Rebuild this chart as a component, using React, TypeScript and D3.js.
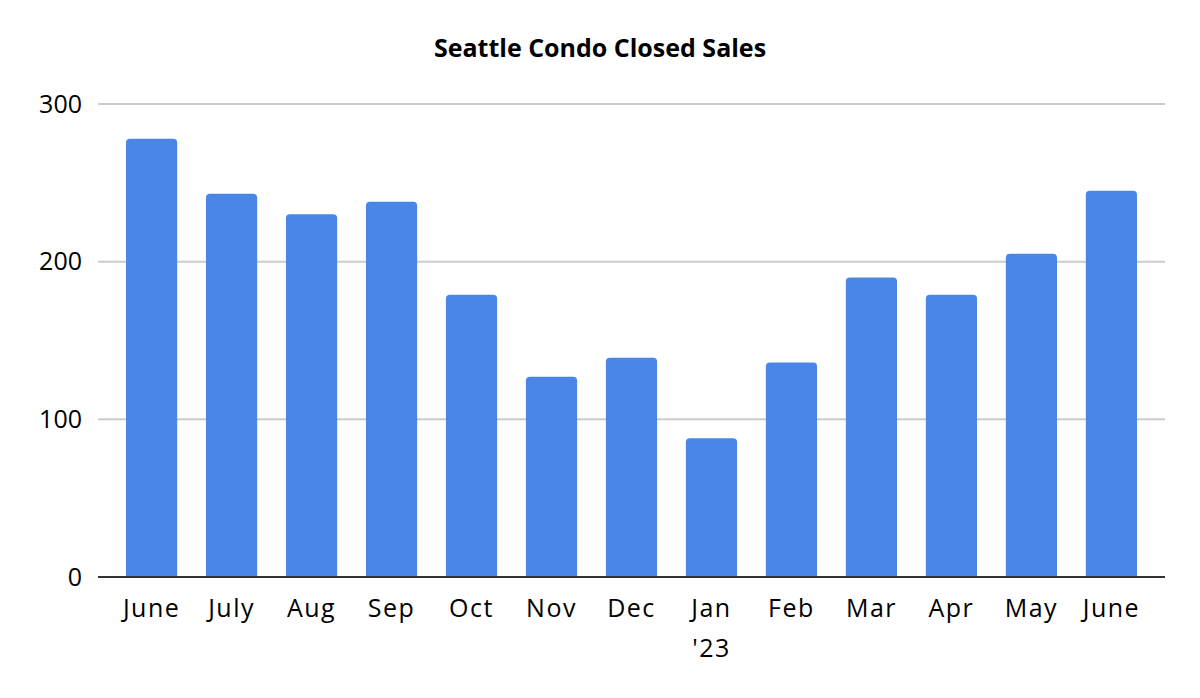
import { useEffect, useRef } from "react";
import * as d3 from "d3";

const months = ["June", "July", "Aug", "Sep", "Oct", "Nov", "Dec", "Jan\n'23", "Feb", "Mar", "Apr", "May", "June "];
const closedSales = [278, 243, 230, 238, 179, 127, 139, 88, 136, 190, 179, 205, 245];
const yTicks = [0, 100, 200, 300];

const W = 1200;
const H = 698;

function App() {
  const svgRef = useRef<SVGSVGElement | null>(null);

  useEffect(() => {
    const svg = d3.select(svgRef.current);
    svg.selectAll("*").remove();

    const left = 98;
    const right = 1165;
    const top = 104;
    const bottom = 577;
    const font = "'Open Sans', 'Liberation Sans', sans-serif";

    const x = d3
      .scaleBand<number>()
      .domain(d3.range(months.length))
      .range([left, right])
      .paddingInner(0.36)
      .paddingOuter(0.35);
    const y = d3.scaleLinear().domain([0, 300]).range([bottom, top]);

    svg
      .append("text")
      .attr("x", 600)
      .attr("y", 57)
      .attr("text-anchor", "middle")
      .attr("font-family", font)
      .attr("font-weight", "bold")
      .attr("font-size", 25)
      .attr("fill", "#000")
      .text("Seattle Condo Closed Sales");

    // gridlines
    svg
      .append("g")
      .selectAll("line")
      .data(yTicks.filter((t) => t > 0))
      .join("line")
      .attr("x1", left)
      .attr("x2", right)
      .attr("y1", (d) => y(d))
      .attr("y2", (d) => y(d))
      .attr("stroke", "#cccccc")
      .attr("stroke-width", 2);

    svg
      .append("g")
      .selectAll("text")
      .data(yTicks)
      .join("text")
      .attr("x", 82)
      .attr("y", (d) => y(d))
      .attr("dy", "0.35em")
      .attr("text-anchor", "end")
      .attr("font-family", font)
      .attr("font-size", 25)
      .attr("fill", "#000")
      .text((d) => d);

    // bars with rounded tops
    const r = 4;
    svg
      .append("g")
      .selectAll("path")
      .data(closedSales)
      .join("path")
      .attr("fill", "#4a86e8")
      .attr("d", (d, i) => {
        const x0 = x(i)!;
        const w = x.bandwidth();
        const y0 = y(d);
        return `M${x0},${bottom}V${y0 + r}Q${x0},${y0} ${x0 + r},${y0}H${x0 + w - r}Q${x0 + w},${y0} ${x0 + w},${y0 + r}V${bottom}Z`;
      });

    // baseline
    svg
      .append("line")
      .attr("x1", left)
      .attr("x2", right)
      .attr("y1", bottom)
      .attr("y2", bottom)
      .attr("stroke", "#333")
      .attr("stroke-width", 2);

    // x labels
    const labels = svg
      .append("g")
      .selectAll("text")
      .data(months)
      .join("text")
      .attr("x", (_, i) => x(i)! + x.bandwidth() / 2)
      .attr("y", 617)
      .attr("text-anchor", "middle")
      .attr("font-family", font)
      .attr("font-size", 25)
      .attr("letter-spacing", 1.5)
      .attr("fill", "#000");
    labels
      .selectAll("tspan")
      .data((d) => d.trim().split("\n"))
      .join("tspan")
      .attr("x", function () {
        return (this.parentNode as SVGTextElement).getAttribute("x");
      })
      .attr("dy", (_, j) => (j === 0 ? 0 : 40))
      .text((d) => d);
  }, []);

  return <svg ref={svgRef} width={W} height={H} style={{ position: "absolute", left: 0, top: 0 }} />;
}

export default App;
